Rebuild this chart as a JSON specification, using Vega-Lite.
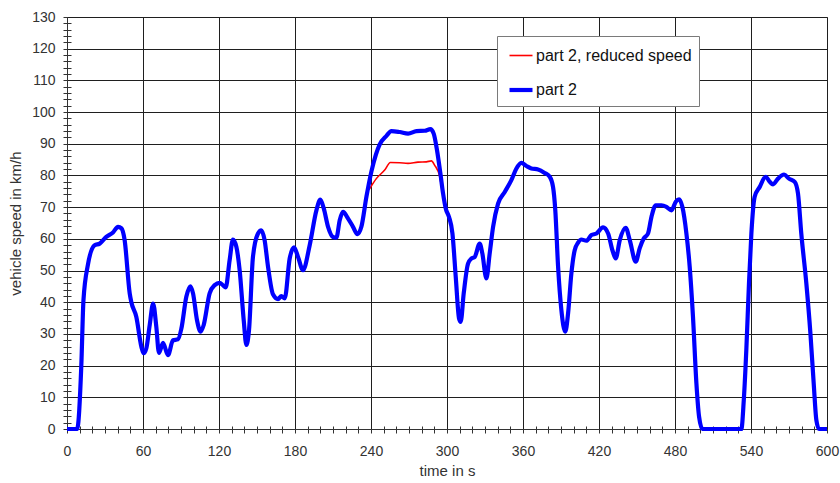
{
  "$schema": "https://vega.github.io/schema/vega-lite/v6.json",
  "width": 760,
  "height": 412,
  "autosize": {"type": "none"},
  "padding": {"left": 67, "top": 17, "right": 13, "bottom": 54},
  "background": "white",
  "config": {
    "font": "Liberation Sans",
    "view": {"stroke": "#7a7a7a", "strokeWidth": 1},
    "axis": {
      "labelFont": "Liberation Sans",
      "titleFont": "Liberation Sans",
      "labelColor": "#333333",
      "titleColor": "#333333",
      "labelFontSize": 14,
      "titleFontSize": 15,
      "titleFontWeight": "normal",
      "domainColor": "#333333",
      "tickColor": "#333333",
      "gridColor": "#1f1f1f",
      "gridWidth": 1,
      "labelOverlap": false,
      "labelFlush": false
    },
    "legend": {
      "labelFont": "Liberation Sans",
      "labelFontSize": 16,
      "labelColor": "#111111"
    }
  },
  "datasets": {
    "reduced": [
      {"t": 238.5, "v": 75.5, "series": "part 2, reduced speed"},
      {"t": 244.2, "v": 79.0, "series": "part 2, reduced speed"},
      {"t": 250.8, "v": 81.7, "series": "part 2, reduced speed"},
      {"t": 255.3, "v": 84.1, "series": "part 2, reduced speed"},
      {"t": 262.7, "v": 84.0, "series": "part 2, reduced speed"},
      {"t": 269.2, "v": 83.8, "series": "part 2, reduced speed"},
      {"t": 277.1, "v": 84.2, "series": "part 2, reduced speed"},
      {"t": 283.7, "v": 84.3, "series": "part 2, reduced speed"},
      {"t": 287.7, "v": 84.6, "series": "part 2, reduced speed"},
      {"t": 290.3, "v": 83.2, "series": "part 2, reduced speed"},
      {"t": 294.3, "v": 79.6, "series": "part 2, reduced speed"},
      {"t": 296.0, "v": 75.5, "series": "part 2, reduced speed"}
    ],
    "part2": [
      {"t": 0, "v": 0, "series": "part 2"},
      {"t": 8, "v": 0, "series": "part 2"},
      {"t": 11.3, "v": 20, "series": "part 2"},
      {"t": 13, "v": 40.7, "series": "part 2"},
      {"t": 16.6, "v": 52, "series": "part 2"},
      {"t": 21.8, "v": 58, "series": "part 2"},
      {"t": 25.8, "v": 58.5, "series": "part 2"},
      {"t": 31, "v": 60.6, "series": "part 2"},
      {"t": 36.3, "v": 62, "series": "part 2"},
      {"t": 40.3, "v": 63.8, "series": "part 2"},
      {"t": 43, "v": 63.3, "series": "part 2"},
      {"t": 45.5, "v": 59.6, "series": "part 2"},
      {"t": 49.5, "v": 42.8, "series": "part 2"},
      {"t": 50.8, "v": 40, "series": "part 2"},
      {"t": 54.7, "v": 35.4, "series": "part 2"},
      {"t": 58.7, "v": 26, "series": "part 2"},
      {"t": 60.5, "v": 23.9, "series": "part 2"},
      {"t": 62.6, "v": 25.4, "series": "part 2"},
      {"t": 65.3, "v": 32.8, "series": "part 2"},
      {"t": 68, "v": 39.6, "series": "part 2"},
      {"t": 70.5, "v": 32.3, "series": "part 2"},
      {"t": 72.6, "v": 24, "series": "part 2"},
      {"t": 75.8, "v": 27.2, "series": "part 2"},
      {"t": 79.7, "v": 23.3, "series": "part 2"},
      {"t": 83.7, "v": 28, "series": "part 2"},
      {"t": 87.6, "v": 28.3, "series": "part 2"},
      {"t": 90.3, "v": 31.7, "series": "part 2"},
      {"t": 94.2, "v": 41.7, "series": "part 2"},
      {"t": 97.4, "v": 45, "series": "part 2"},
      {"t": 99.5, "v": 42.8, "series": "part 2"},
      {"t": 102.6, "v": 34.4, "series": "part 2"},
      {"t": 105.5, "v": 30.7, "series": "part 2"},
      {"t": 107.9, "v": 32.8, "series": "part 2"},
      {"t": 112.6, "v": 42.8, "series": "part 2"},
      {"t": 116.6, "v": 45.4, "series": "part 2"},
      {"t": 120.5, "v": 46.1, "series": "part 2"},
      {"t": 123, "v": 45.4, "series": "part 2"},
      {"t": 125.3, "v": 44.7, "series": "part 2"},
      {"t": 128.4, "v": 53.3, "series": "part 2"},
      {"t": 131, "v": 59.8, "series": "part 2"},
      {"t": 133.7, "v": 57.5, "series": "part 2"},
      {"t": 136.3, "v": 50.1, "series": "part 2"},
      {"t": 139.5, "v": 34.4, "series": "part 2"},
      {"t": 141.6, "v": 26.5, "series": "part 2"},
      {"t": 143.7, "v": 31.2, "series": "part 2"},
      {"t": 146.8, "v": 54.3, "series": "part 2"},
      {"t": 150.8, "v": 61.7, "series": "part 2"},
      {"t": 153.4, "v": 62.7, "series": "part 2"},
      {"t": 156, "v": 59.6, "series": "part 2"},
      {"t": 158.7, "v": 51.2, "series": "part 2"},
      {"t": 162.6, "v": 42.5, "series": "part 2"},
      {"t": 166.6, "v": 41, "series": "part 2"},
      {"t": 169.2, "v": 41.9, "series": "part 2"},
      {"t": 171.9, "v": 41.2, "series": "part 2"},
      {"t": 175.8, "v": 53.8, "series": "part 2"},
      {"t": 179.2, "v": 57.3, "series": "part 2"},
      {"t": 182.4, "v": 54.3, "series": "part 2"},
      {"t": 186.3, "v": 50.1, "series": "part 2"},
      {"t": 191.6, "v": 58, "series": "part 2"},
      {"t": 196.9, "v": 69, "series": "part 2"},
      {"t": 200, "v": 72.4, "series": "part 2"},
      {"t": 202.7, "v": 69.6, "series": "part 2"},
      {"t": 206.1, "v": 63.8, "series": "part 2"},
      {"t": 210, "v": 60.6, "series": "part 2"},
      {"t": 212.7, "v": 60.4, "series": "part 2"},
      {"t": 215.3, "v": 65.9, "series": "part 2"},
      {"t": 217.9, "v": 68.5, "series": "part 2"},
      {"t": 221.9, "v": 66.4, "series": "part 2"},
      {"t": 225.8, "v": 63.8, "series": "part 2"},
      {"t": 229.3, "v": 61.5, "series": "part 2"},
      {"t": 232.4, "v": 63.8, "series": "part 2"},
      {"t": 236.4, "v": 73.3, "series": "part 2"},
      {"t": 240.3, "v": 81.2, "series": "part 2"},
      {"t": 243.8, "v": 86.5, "series": "part 2"},
      {"t": 246.9, "v": 89.8, "series": "part 2"},
      {"t": 252.2, "v": 92.5, "series": "part 2"},
      {"t": 256.1, "v": 94, "series": "part 2"},
      {"t": 262.7, "v": 93.7, "series": "part 2"},
      {"t": 269.3, "v": 93.2, "series": "part 2"},
      {"t": 275.9, "v": 94, "series": "part 2"},
      {"t": 282.4, "v": 94.1, "series": "part 2"},
      {"t": 286.9, "v": 94.6, "series": "part 2"},
      {"t": 289.5, "v": 93.2, "series": "part 2"},
      {"t": 292.1, "v": 88, "series": "part 2"},
      {"t": 294.8, "v": 80.6, "series": "part 2"},
      {"t": 296.9, "v": 74.3, "series": "part 2"},
      {"t": 299, "v": 69.6, "series": "part 2"},
      {"t": 301.6, "v": 66.9, "series": "part 2"},
      {"t": 304.3, "v": 61.7, "series": "part 2"},
      {"t": 306.9, "v": 48, "series": "part 2"},
      {"t": 309.5, "v": 34.9, "series": "part 2"},
      {"t": 310.8, "v": 33.8, "series": "part 2"},
      {"t": 313.2, "v": 42.8, "series": "part 2"},
      {"t": 316.6, "v": 52.2, "series": "part 2"},
      {"t": 319.3, "v": 53.8, "series": "part 2"},
      {"t": 321.9, "v": 54.3, "series": "part 2"},
      {"t": 325.8, "v": 58.5, "series": "part 2"},
      {"t": 327.9, "v": 55.4, "series": "part 2"},
      {"t": 331.1, "v": 47.5, "series": "part 2"},
      {"t": 333.7, "v": 55.4, "series": "part 2"},
      {"t": 336.4, "v": 63.8, "series": "part 2"},
      {"t": 340.3, "v": 71.1, "series": "part 2"},
      {"t": 345.6, "v": 74.8, "series": "part 2"},
      {"t": 350.8, "v": 78.5, "series": "part 2"},
      {"t": 354.8, "v": 82.2, "series": "part 2"},
      {"t": 358.7, "v": 84, "series": "part 2"},
      {"t": 362.7, "v": 83, "series": "part 2"},
      {"t": 366.6, "v": 82.2, "series": "part 2"},
      {"t": 371.9, "v": 81.9, "series": "part 2"},
      {"t": 377.1, "v": 80.8, "series": "part 2"},
      {"t": 381.1, "v": 79.6, "series": "part 2"},
      {"t": 383.7, "v": 76.4, "series": "part 2"},
      {"t": 385.5, "v": 69, "series": "part 2"},
      {"t": 387.7, "v": 51.2, "series": "part 2"},
      {"t": 390.3, "v": 37.5, "series": "part 2"},
      {"t": 393.4, "v": 30.7, "series": "part 2"},
      {"t": 395.6, "v": 36.5, "series": "part 2"},
      {"t": 398.2, "v": 49.1, "series": "part 2"},
      {"t": 400.8, "v": 56.4, "series": "part 2"},
      {"t": 403.5, "v": 58.8, "series": "part 2"},
      {"t": 406.1, "v": 59.8, "series": "part 2"},
      {"t": 410, "v": 59.4, "series": "part 2"},
      {"t": 414, "v": 61.2, "series": "part 2"},
      {"t": 418, "v": 61.7, "series": "part 2"},
      {"t": 423.2, "v": 63.6, "series": "part 2"},
      {"t": 427.2, "v": 61.7, "series": "part 2"},
      {"t": 430.6, "v": 56.4, "series": "part 2"},
      {"t": 433.2, "v": 53.8, "series": "part 2"},
      {"t": 436.4, "v": 59.6, "series": "part 2"},
      {"t": 441.1, "v": 63.5, "series": "part 2"},
      {"t": 444.3, "v": 59.6, "series": "part 2"},
      {"t": 449, "v": 52.8, "series": "part 2"},
      {"t": 452.1, "v": 57, "series": "part 2"},
      {"t": 455.3, "v": 60.1, "series": "part 2"},
      {"t": 458.7, "v": 61.7, "series": "part 2"},
      {"t": 461.4, "v": 66.9, "series": "part 2"},
      {"t": 464.8, "v": 70.6, "series": "part 2"},
      {"t": 469.3, "v": 70.6, "series": "part 2"},
      {"t": 473.2, "v": 70.1, "series": "part 2"},
      {"t": 477.2, "v": 69, "series": "part 2"},
      {"t": 480.6, "v": 71.7, "series": "part 2"},
      {"t": 483.2, "v": 72.5, "series": "part 2"},
      {"t": 485.8, "v": 70.1, "series": "part 2"},
      {"t": 489, "v": 61.7, "series": "part 2"},
      {"t": 491.6, "v": 51.2, "series": "part 2"},
      {"t": 494.2, "v": 35.4, "series": "part 2"},
      {"t": 496.9, "v": 14.4, "series": "part 2"},
      {"t": 499, "v": 3.9, "series": "part 2"},
      {"t": 501.6, "v": 0, "series": "part 2"},
      {"t": 532.4, "v": 0, "series": "part 2"},
      {"t": 534.3, "v": 9.1, "series": "part 2"},
      {"t": 536.3, "v": 24.9, "series": "part 2"},
      {"t": 538.4, "v": 45.9, "series": "part 2"},
      {"t": 540.3, "v": 61.7, "series": "part 2"},
      {"t": 542.9, "v": 73.3, "series": "part 2"},
      {"t": 546.9, "v": 76.4, "series": "part 2"},
      {"t": 551.6, "v": 79.6, "series": "part 2"},
      {"t": 554.8, "v": 78, "series": "part 2"},
      {"t": 557.4, "v": 77.2, "series": "part 2"},
      {"t": 561.3, "v": 79, "series": "part 2"},
      {"t": 566.1, "v": 80.3, "series": "part 2"},
      {"t": 570, "v": 79, "series": "part 2"},
      {"t": 574.5, "v": 78, "series": "part 2"},
      {"t": 577.1, "v": 74.3, "series": "part 2"},
      {"t": 579.7, "v": 61.7, "series": "part 2"},
      {"t": 583.7, "v": 45.9, "series": "part 2"},
      {"t": 586.9, "v": 30.2, "series": "part 2"},
      {"t": 589.5, "v": 14.4, "series": "part 2"},
      {"t": 591.6, "v": 2.8, "series": "part 2"},
      {"t": 593.7, "v": 0, "series": "part 2"},
      {"t": 600, "v": 0, "series": "part 2"}
    ]
  },
  "layer": [
    {
      "data": {"name": "reduced"},
      "mark": {"type": "line", "interpolate": "monotone"},
      "encoding": {
        "x": {
          "field": "t", "type": "quantitative",
          "scale": {"domain": [0, 600], "nice": false, "zero": false},
          "axis": {
            "orient": "bottom", "title": null, "labels": false, "domain": false, "grid": false,
            "ticks": true, "tickSize": -3, "tickColor": "#333333",
            "values": [10,20,30,40,50,70,80,90,100,110,130,140,150,160,170,190,200,210,220,230,250,260,270,280,290,310,320,330,340,350,370,380,390,400,410,430,440,450,460,470,490,500,510,520,530,550,560,570,580,590]
          }
        },
        "y": {
          "field": "v", "type": "quantitative",
          "scale": {"domain": [0, 130], "nice": false},
          "axis": {
            "orient": "left", "title": null, "labels": false, "domain": false, "grid": false,
            "ticks": true, "tickSize": -4, "tickColor": "#333333",
            "values": [2,4,6,8,12,14,16,18,22,24,26,28,32,34,36,38,42,44,46,48,52,54,56,58,62,64,66,68,72,74,76,78,82,84,86,88,92,94,96,98,102,104,106,108,112,114,116,118,122,124,126,128]
          }
        },
        "color": {
          "field": "series", "type": "nominal",
          "scale": {"domain": ["part 2, reduced speed", "part 2"], "range": ["#ff0000", "#0000ff"]},
          "legend": {
            "orient": "none", "legendX": 430, "legendY": 19, "title": null,
            "padding": 7, "fillColor": "white", "strokeColor": "#7a7a7a",
            "symbolType": "stroke", "symbolSize": 529, "symbolOffset": 3,
            "labelOffset": 1, "rowPadding": 12, "cornerRadius": 0
          }
        },
        "strokeWidth": {
          "field": "series", "type": "nominal",
          "scale": {"domain": ["part 2, reduced speed", "part 2"], "range": [1.6, 4.2]},
          "legend": {
            "orient": "none", "legendX": 430, "legendY": 19, "title": null,
            "padding": 7, "fillColor": "white", "strokeColor": "#7a7a7a",
            "symbolType": "stroke", "symbolSize": 529, "symbolOffset": 3,
            "labelOffset": 1, "rowPadding": 12, "cornerRadius": 0
          }
        }
      }
    },
    {
      "data": {"name": "part2"},
      "mark": {"type": "line", "interpolate": "monotone"},
      "encoding": {
        "x": {
          "field": "t", "type": "quantitative",
          "scale": {"domain": [0, 600], "nice": false, "zero": false},
          "axis": {
            "orient": "bottom", "title": "time in s",
            "values": [0,10,20,30,40,50,60,70,80,90,100,110,120,130,140,150,160,170,180,190,200,210,220,230,240,250,260,270,280,290,300,310,320,330,340,350,360,370,380,390,400,410,420,430,440,450,460,470,480,490,500,510,520,530,540,550,560,570,580,590,600],
            "labelExpr": "datum.value % 60 === 0 ? datum.label : ''",
            "grid": true,
            "gridOpacity": {"condition": {"test": "datum.value % 60 === 0", "value": 1}, "value": 0},
            "tickSize": 4, "labelPadding": 11, "titlePadding": 5
          }
        },
        "y": {
          "field": "v", "type": "quantitative",
          "scale": {"domain": [0, 130], "nice": false},
          "axis": {
            "orient": "left", "title": "vehicle speed in km/h",
            "values": [0,2,4,6,8,10,12,14,16,18,20,22,24,26,28,30,32,34,36,38,40,42,44,46,48,50,52,54,56,58,60,62,64,66,68,70,72,74,76,78,80,82,84,86,88,90,92,94,96,98,100,102,104,106,108,110,112,114,116,118,120,122,124,126,128,130],
            "labelExpr": "datum.value % 10 === 0 ? datum.label : ''",
            "grid": true,
            "gridOpacity": {"condition": {"test": "datum.value % 10 === 0", "value": 1}, "value": 0},
            "tickSize": 4, "labelPadding": 8, "titlePadding": 8
          }
        },
        "color": {"field": "series", "type": "nominal"},
        "strokeWidth": {"field": "series", "type": "nominal"}
      }
    }
  ],
  "resolve": {"axis": {"x": "independent", "y": "independent"}}
}
